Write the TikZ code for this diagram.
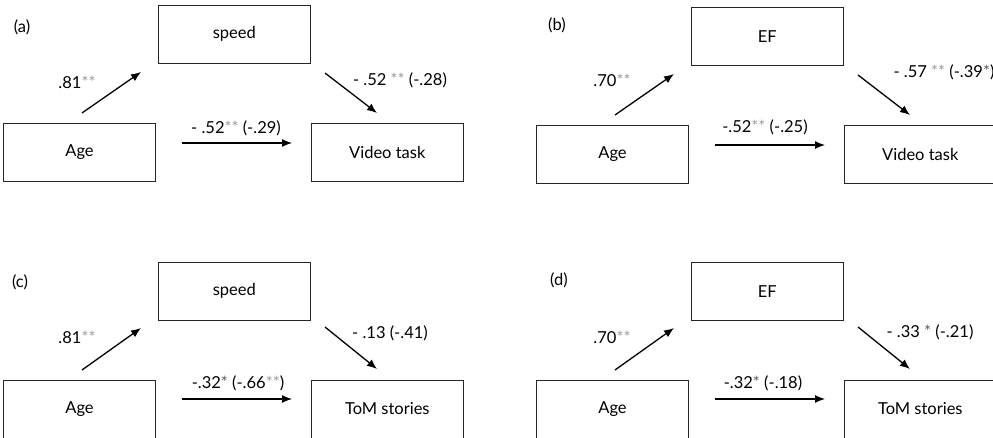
\documentclass[tikz,border=0pt]{standalone}
\usepackage{fontspec}
\setmainfont{Lato}
\usepackage{xcolor}
\usetikzlibrary{arrows.meta,positioning}
\definecolor{starlight}{gray}{0.6}
\definecolor{stardark}{gray}{0.35}
\newcommand{\twostar}{\textcolor{starlight}{**}}
\newcommand{\onestar}{\textcolor{stardark}{*}}

\begin{document}
\begin{tikzpicture}[x=1pt, y=-1pt, >={Latex[length=10pt,width=8pt]},
  every node/.style={font=\fontsize{16.5}{19}\selectfont},
  var/.style={draw=black!85, line width=0.8pt, minimum width=152pt, minimum height=58pt, inner sep=0pt},
  effect/.style={->, line width=1.3pt}]
\useasboundingbox (0,0) rectangle (993,438);
\clip (0,0) rectangle (993,438);

\begin{scope}
\node (tagA) at (22,27) {(a)};
\node[var] (ageA) at (79.5,152) {Age};
\node[var, above right=59pt and 2pt of ageA] (speedA) {speed};
\node[var, right=155pt of ageA] (videoA) {Video task};
\coordinate (a1) at (82,113); \coordinate (a2) at (141,72);
\coordinate (a3) at (325,73); \coordinate (a4) at (377,113);
\coordinate (a5) at (182,143); \coordinate (a6) at (292,143);
\draw[effect] (a1) -- (a2);
\draw[effect] (a3) -- (a4);
\draw[effect] (a5) -- (a6);
\node (pathA) at (77,82) {.81\twostar};
\node (indA) at (400,80) {- .52 \twostar{} (-.28)};
\node (dirA) at (236,128) {- .52\twostar{} (-.29)};
\end{scope}

\begin{scope}[shift={(533,2)}]
\node (tagB) at (24,23) {(b)};
\node[var] (ageB) at (79.5,152) {Age};
\node[var, above right=59pt and 2pt of ageB] (efB) {EF};
\node[var, right=155pt of ageB] (videoB) {Video task};
\coordinate (b1) at (82,113); \coordinate (b2) at (141,72);
\coordinate (b3) at (325,73); \coordinate (b4) at (377,113);
\coordinate (b5) at (182,143); \coordinate (b6) at (292,143);
\draw[effect] (b1) -- (b2);
\draw[effect] (b3) -- (b4);
\draw[effect] (b5) -- (b6);
\node (pathB) at (79,78) {.70\twostar};
\node (indB) at (411,70) {- .57 \twostar{} (-.39\onestar)};
\node (dirB) at (232,125) {-.52\twostar{} (-.25)};
\end{scope}

\begin{scope}[shift={(0,257)}]
\node (tagC) at (20,25) {(c)};
\node[var] (ageC) at (79.5,152) {Age};
\node[var, above right=59pt and 2pt of ageC] (speedC) {speed};
\node[var, right=155pt of ageC] (tomC) {ToM stories};
\coordinate (c1) at (82,113); \coordinate (c2) at (141,71);
\coordinate (c3) at (325,70); \coordinate (c4) at (377,112);
\coordinate (c5) at (182,142); \coordinate (c6) at (292,142);
\draw[effect] (c1) -- (c2);
\draw[effect] (c3) -- (c4);
\draw[effect] (c5) -- (c6);
\node (pathC) at (77,80) {.81\twostar};
\node (indC) at (390,76) {- .13 (-.41)};
\node (dirC) at (238,126) {-.32\onestar{} (-.66\twostar)};
\end{scope}

\begin{scope}[shift={(533,257)}]
\node (tagD) at (26,23) {(d)};
\node[var] (ageD) at (79.5,152) {Age};
\node[var, above right=59pt and 2pt of ageD] (efD) {EF};
\node[var, right=155pt of ageD] (tomD) {ToM stories};
\coordinate (d1) at (82,113); \coordinate (d2) at (141,71);
\coordinate (d3) at (325,70); \coordinate (d4) at (377,112);
\coordinate (d5) at (182,142); \coordinate (d6) at (292,142);
\draw[effect] (d1) -- (d2);
\draw[effect] (d3) -- (d4);
\draw[effect] (d5) -- (d6);
\node (pathD) at (79,80) {.70\twostar};
\node (indD) at (397,75) {- .33 \onestar{} (-.21)};
\node (dirD) at (230,126) {-.32\onestar{} (-.18)};
\end{scope}
\end{tikzpicture}
\end{document}
